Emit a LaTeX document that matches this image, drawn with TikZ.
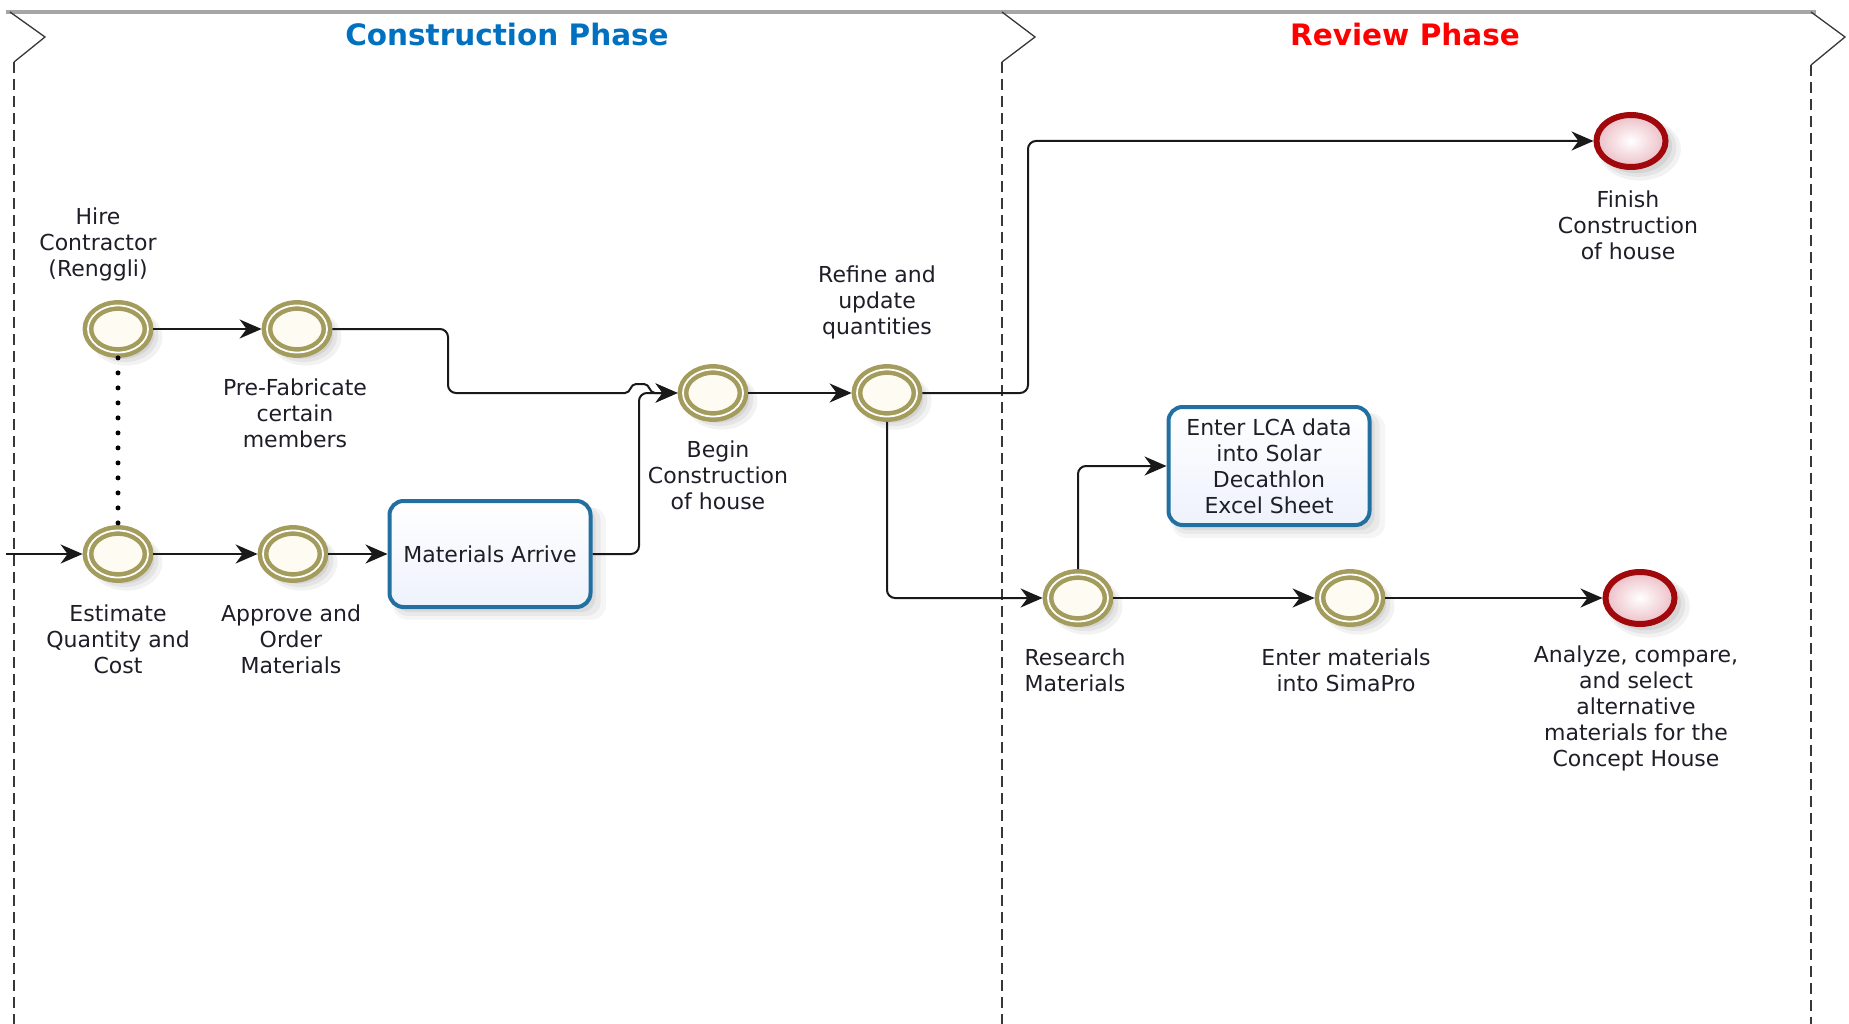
\documentclass[tikz,border=0pt]{standalone}
\usepackage{fontspec}
\setmainfont{DejaVu Sans}
\usetikzlibrary{shapes.geometric,arrows.meta,shadows}

\definecolor{ringolive}{RGB}{163,156,92}
\definecolor{evfill}{RGB}{253,251,242}
\definecolor{taskblue}{RGB}{33,112,160}
\definecolor{taskfill}{RGB}{238,242,252}
\definecolor{endred}{RGB}{160,8,12}
\definecolor{endpink}{RGB}{236,190,198}
\definecolor{titleblue}{RGB}{0,112,192}
\definecolor{titlered}{RGB}{255,0,0}
\definecolor{flowline}{RGB}{25,25,25}
\definecolor{lanegray}{RGB}{55,55,55}
\definecolor{labeltext}{RGB}{30,30,40}

\tikzset{
  evshadow/.style={
    general shadow={fill=black,opacity=.05,shadow xshift=7pt,shadow yshift=-7pt,shadow scale=1.2},
    general shadow={fill=black,opacity=.06,shadow xshift=6pt,shadow yshift=-6pt,shadow scale=1.12},
    general shadow={fill=black,opacity=.07,shadow xshift=5pt,shadow yshift=-5pt,shadow scale=1.04}},
  boxshadow/.style={
    general shadow={fill=black,opacity=.04,shadow xshift=9pt,shadow yshift=-9pt,shadow scale=1.06},
    general shadow={fill=black,opacity=.05,shadow xshift=7pt,shadow yshift=-7pt,shadow scale=1.03},
    general shadow={fill=black,opacity=.06,shadow xshift=5pt,shadow yshift=-5pt}},
  midevent/.style={ellipse, evshadow, draw=ringolive, line width=4.5pt,
    double=white, double distance=1.8pt, fill=evfill,
    minimum width=60pt, minimum height=47pt, inner sep=0pt, outer sep=5.4pt},
  endevent/.style={ellipse, evshadow, draw=endred, line width=6pt,
    inner color=white, outer color=endpink,
    minimum width=69pt, minimum height=52pt, inner sep=0pt, outer sep=3pt},
  task/.style={rectangle, rounded corners=14pt, boxshadow, draw=taskblue,
    line width=4pt, top color=white, bottom color=taskfill,
    text=labeltext, align=center, inner sep=0pt, outer sep=2pt,
    font=\fontsize{22}{26}\selectfont},
  lbl/.style={text=labeltext, align=center, inner sep=0pt,
    font=\fontsize{22}{26}\selectfont},
  phasetitle/.style={font=\bfseries\fontsize{29.5}{34}\selectfont, inner sep=0pt},
  flow/.style={draw=flowline, line width=2pt, rounded corners=8pt,
    -{Stealth[length=22pt,width=19pt,inset=7pt]}},
  assoc/.style={draw=black, line width=5pt, line cap=round,
    dash pattern=on 0pt off 15pt},
  lanetop/.style={draw=gray!70, line width=3.5pt},
  chevron/.style={draw=lanegray, line width=1.3pt},
  lanedash/.style={draw=lanegray, line width=1.3pt, dash pattern=on 11pt off 6pt}
}

\begin{document}
\begin{tikzpicture}[x=1pt, y=-1pt]
\useasboundingbox (0,0) rectangle (1849,1024);

% phase header and lane boundaries
\draw[lanetop] (6,12) -- (1816,12);
\draw[chevron] (10,12) -- (45,37) -- (14,62);
\draw[lanedash] (14,62) -- (14,1024);
\draw[chevron] (1002,12) -- (1035,37) -- (1002,62);
\draw[lanedash] (1002,62) -- (1002,1024);
\draw[chevron] (1811,12) -- (1845,37) -- (1811,65);
\draw[lanedash] (1811,65) -- (1811,1024);

\node[phasetitle, text=titleblue] (tconstr) at (507,35) {Construction Phase};
\node[phasetitle, text=titlered] (treview) at (1405,35) {Review Phase};

% events and tasks
\node[midevent] (hire) at (118,329) {};
\node[midevent] (prefab) at (297,329) {};
\node[midevent] (estimate) at (118,554) {};
\node[midevent] (approve) at (293,554) {};
\node[task, minimum width=201pt, minimum height=106pt] (matarr) at (490,554) {Materials Arrive};
\node[midevent] (begin) at (713,393) {};
\node[midevent] (refine) at (887,393) {};
\node[endevent] (finish) at (1631,141) {};
\node[task, minimum width=201pt, minimum height=118pt] (lca) at (1269,466)
  {Enter LCA data\\into Solar\\Decathlon\\Excel Sheet};
\node[midevent] (research) at (1078,598) {};
\node[midevent] (simapro) at (1350,598) {};
\node[endevent] (analyze) at (1640,598) {};

% labels
\node[lbl] (lhire) at (98,244) {Hire\\Contractor\\(Renggli)};
\node[lbl] (lprefab) at (295,413) {Pre-Fabricate\\certain\\members};
\node[lbl] (lest) at (118,639) {Estimate\\Quantity and\\Cost};
\node[lbl] (lappr) at (291,639) {Approve and\\Order\\Materials};
\node[lbl] (lbegin) at (718,475) {Begin\\Construction\\of house};
\node[lbl] (lrefine) at (877,302) {Refine and\\update\\quantities};
\node[lbl] (lfinish) at (1628,225) {Finish\\Construction\\of house};
\node[lbl] (lres) at (1075,670) {Research\\Materials};
\node[lbl] (lsima) at (1346,670) {Enter materials\\into SimaPro};
\node[lbl] (lanalyze) at (1636,708) {Analyze, compare,\\and select\\alternative\\materials for the\\Concept House};

% sequence flows
\coordinate (entry) at (6,554);
\draw[flow] (entry) -- (estimate.west);
\draw[flow] (hire.east) -- (prefab.west);
\draw[flow] (estimate.east) -- (approve.west);
\draw[flow] (approve.east) -- (matarr.west);
\draw[flow] (matarr.east) -- (639,554) -- (639,393) -- (begin.west);
% line hop where this flow crosses the one from Materials Arrive
\draw[flow] (prefab.east) -- (448,329) -- (448,393) -- (600,393)
  [sharp corners] -- (625,393)
  .. controls (631,393) and (630,384) .. (636,384) -- (644,384)
  .. controls (650,384) and (649,393) .. (655,393) -- (begin.west);
\draw[flow] (begin.east) -- (refine.west);
\draw[flow] (refine.east) -- (1028,393) -- (1028,141) -- (finish.west);
\draw[flow] (refine.south) -- (887,598) -- (research.west);
\draw[flow] (research.north) -- (1078,466) -- (lca.west);
\draw[flow] (research.east) -- (simapro.west);
\draw[flow] (simapro.east) -- (analyze.west);

% association
\draw[assoc] (hire.south) -- (estimate.north);
\end{tikzpicture}
\end{document}
